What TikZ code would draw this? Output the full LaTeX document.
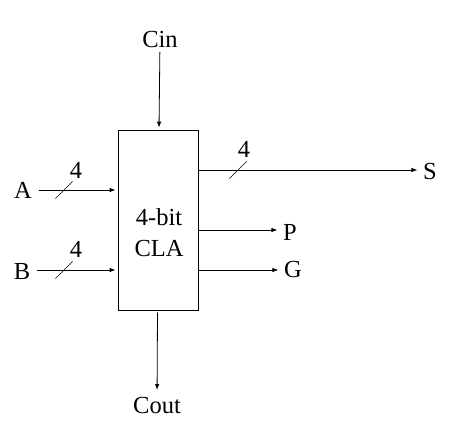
\documentclass[tikz,border=0pt]{standalone}
\usepackage{fontspec}
\setmainfont{Liberation Serif}
\usetikzlibrary{arrows.meta}

\tikzset{
    bus/.style={line width=.6pt},
    buswidth/.style={inner sep=1pt}
}

\begin{document}
\begin{tikzpicture}[x=1pt,y=-1pt,line width=.8pt,
        font=\fontsize{24.5}{31}\selectfont,
        >={Latex[length=6pt,width=4.5pt]},
        shorten <=2pt, shorten >=2pt]

            \useasboundingbox (0,0) rectangle (468,424);

            \node[rectangle,draw,minimum width=80,minimum height=180]
            	(cla) 		at (158,220) {};
            \node[align=center]
            	(clatext) 	at (159,233) {4-bit\\CLA};

            \node (cin) 	at (160,40) {Cin};
            \node (cout) 	at (157,405) {Cout};
            \node (a) 		at (23,190) {A};
            \node (b) 		at (22,272) {B};
            \node (s) 		at (430,172) {S};
            \node (p) 		at (290,232) {P};
            \node (g) 		at (293,270) {G};

            \node[buswidth] (wa) at (76,170) {4};
            \node[buswidth] (wb) at (76,249) {4};
            \node[buswidth] (ws) at (244,149) {4};

            \coordinate (ta) at (64,190);
            \coordinate (tb) at (64,270);
            \coordinate (ts) at (238,170);

            \begin{scope}
                \path[->] (cin)  edge[shorten <=0pt] (cla);
                \path[->] (cla)  edge[shorten >=3pt] (cout);
                \path[->] (a.east |- ta) edge[shorten <=3pt] (ta -| cla.west);
                \path[->] (b.east |- tb) edge[shorten <=3pt] (tb -| cla.west);
                \path[->] (ts -| cla.east) edge[shorten <=0pt] (ts -| s.west);
                \path[->] (cla.east |- 0,230) edge[shorten <=0pt] (0,230 -| p.west);
                \path[->] (cla.east |- 0,270) edge[shorten <=0pt] (0,270 -| g.west);
            \end{scope}

            \begin{scope}[bus]
                \draw ([shift={(-10,10)}]ta) -- ([shift={(10,-10)}]ta);
                \draw ([shift={(-10,10)}]tb) -- ([shift={(10,-10)}]tb);
                \draw ([shift={(-10,10)}]ts) -- ([shift={(10,-10)}]ts);
            \end{scope}
        \end{tikzpicture}
\end{document}
